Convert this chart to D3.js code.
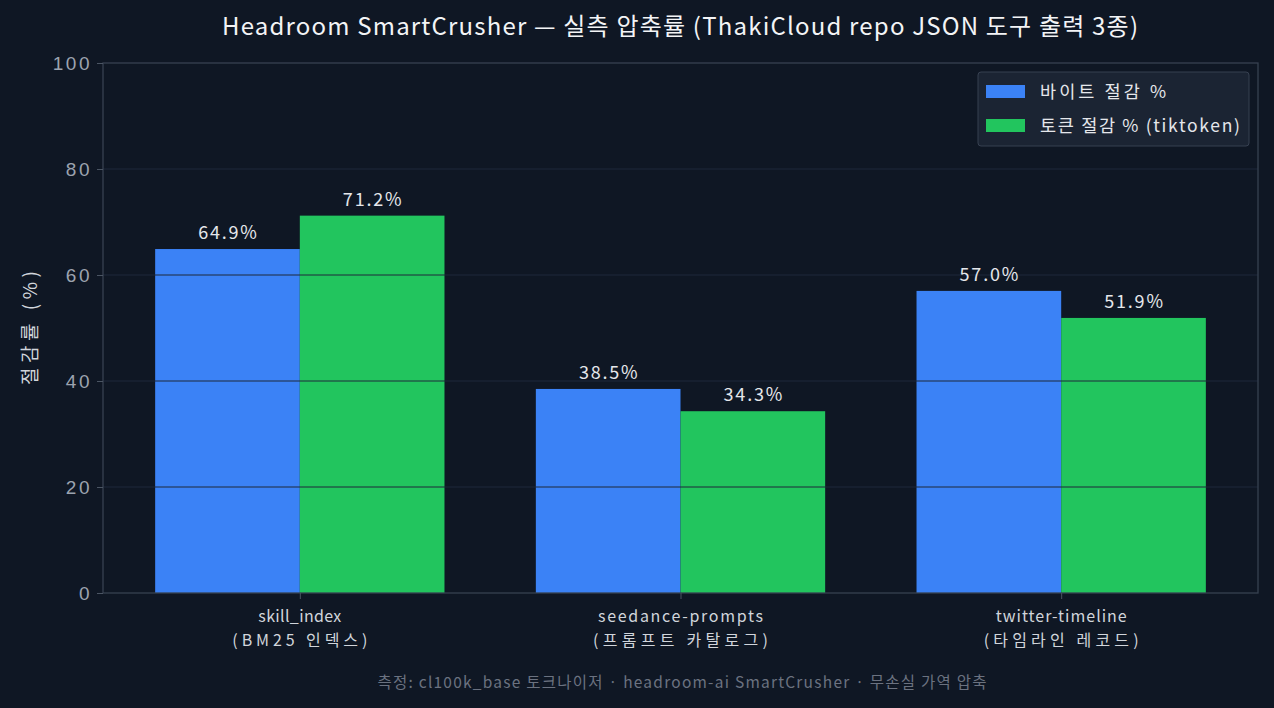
<!DOCTYPE html>
<html>
<head>
<meta charset="utf-8">
<script src="https://cdn.jsdelivr.net/npm/d3@7"></script>
<style>
  html, body { margin: 0; padding: 0; background: #0f1724; }
  svg { display: block; font-family: "Noto Sans CJK KR", "Noto Sans", sans-serif; }
</style>
</head>
<body>
<svg id="chart" width="1274" height="708"></svg>
<script>
// data
const categories = ['skill_index', 'seedance-prompts', 'twitter-timeline'];
const subLabels = ['(BM25 인덱스)', '(프롬프트 카탈로그)', '(타임라인 레코드)'];
const seriesNames = ['바이트 절감 %', '토큰 절감 % (tiktoken)'];
const byteSaving = [64.9, 38.5, 57.0];
const tokenSaving = [71.2, 34.3, 51.9];
const yTicks = [0, 20, 40, 60, 80, 100];

const colors = ['#3b82f6', '#22c55e'];
const width = 1274, height = 708;
const margin = { top: 63, right: 16, bottom: 115, left: 103 };

// widths of the label text as drawn in the original (spacing only)
const catLen = [83, 165, 131];
const subLen = [135, 175, 155];
const legendLen = [126, 200];

const svg = d3.select('#chart');
svg.append('rect').attr('width', width).attr('height', height).attr('fill', '#0f1724');

const x = d3.scaleLinear().domain([-0.517, 2.517]).range([margin.left, width - margin.right]);
const y = d3.scaleLinear().domain([0, 100]).range([height - margin.bottom, margin.top]);
const barW = 0.38;

const series = [byteSaving, tokenSaving];

// bars
series.forEach((vals, s) => {
  svg.append('g').selectAll('rect')
    .data(vals)
    .enter()
    .append('rect')
    .attr('x', (d, i) => x(i + (s === 0 ? -barW : 0)))
    .attr('width', x(barW) - x(0))
    .attr('y', d => y(d))
    .attr('height', d => y(0) - y(d))
    .attr('fill', colors[s]);
});

// grid over bars
svg.append('g').selectAll('line')
  .data(yTicks.filter(t => t > 0 && t < 100))
  .enter()
  .append('line')
  .attr('x1', margin.left).attr('x2', width - margin.right)
  .attr('y1', d => y(d)).attr('y2', d => y(d))
  .attr('stroke', '#1e293b')
  .attr('stroke-width', 1);

// value labels
series.forEach((vals, s) => {
  svg.append('g').selectAll('text')
    .data(vals)
    .enter()
    .append('text')
    .attr('x', (d, i) => x(i + (s === 0 ? -barW / 2 : barW / 2)) + 1)
    .attr('y', d => y(d) - 10)
    .attr('text-anchor', 'middle')
    .style('font-size', '18px')
    .style('letter-spacing', '1.8px')
    .style('fill', '#e5e7eb')
    .text(d => d.toFixed(1) + '%');
});

// frame
svg.append('rect')
  .attr('x', margin.left).attr('y', margin.top)
  .attr('width', width - margin.right - margin.left)
  .attr('height', y(0) - margin.top)
  .attr('fill', 'none')
  .attr('stroke', '#374151')
  .attr('stroke-width', 1.3);

// y axis
const yAxis = svg.append('g')
  .attr('transform', `translate(${margin.left},0)`)
  .call(d3.axisLeft(y).tickValues(yTicks).tickSize(6).tickPadding(5));
yAxis.select('.domain').remove();
yAxis.selectAll('line').attr('stroke', '#4b5563');
yAxis.selectAll('text')
  .style('font-size', '19px')
  .style('letter-spacing', '2.5px')
  .style('fill', '#9ca3af')
  .style('font-family', 'inherit');

// x axis
const xAxis = svg.append('g')
  .attr('transform', `translate(0,${y(0)})`)
  .call(d3.axisBottom(x).tickValues([0, 1, 2]).tickSize(6).tickFormat(''));
xAxis.select('.domain').remove();
xAxis.selectAll('line').attr('stroke', '#4b5563');

const xl = svg.append('g').selectAll('g')
  .data(categories)
  .enter()
  .append('g');
xl.append('text')
  .attr('x', (d, i) => x(i)).attr('y', 622)
  .attr('text-anchor', 'middle')
  .attr('textLength', (d, i) => catLen[i])
  .attr('lengthAdjust', 'spacing')
  .style('font-size', '16px')
  .style('fill', '#d1d5db')
  .text(d => d);
xl.append('text')
  .attr('x', (d, i) => x(i)).attr('y', 646)
  .attr('text-anchor', 'middle')
  .attr('textLength', (d, i) => subLen[i])
  .attr('lengthAdjust', 'spacing')
  .style('font-size', '16px')
  .style('fill', '#d1d5db')
  .text((d, i) => subLabels[i]);

// y label
svg.append('text')
  .attr('transform', `translate(37,${(margin.top + y(0)) / 2}) rotate(-90)`)
  .attr('text-anchor', 'middle')
  .attr('textLength', 114)
  .attr('lengthAdjust', 'spacing')
  .style('font-size', '19px')
  .style('fill', '#d1d5db')
  .text('절감률 (%)');

// title
svg.append('text')
  .attr('x', 680)
  .attr('y', 35)
  .attr('text-anchor', 'middle')
  .attr('textLength', 916)
  .attr('lengthAdjust', 'spacing')
  .style('font-size', '24px')
  .style('fill', '#f3f4f6')
  .text('Headroom SmartCrusher — 실측 압축률 (ThakiCloud repo JSON 도구 출력 3종)');

// footer
svg.append('text')
  .attr('x', 682)
  .attr('y', 688)
  .attr('text-anchor', 'middle')
  .attr('textLength', 609)
  .attr('lengthAdjust', 'spacing')
  .style('font-size', '15.5px')
  .style('fill', '#6b7280')
  .text('측정: cl100k_base 토크나이저 · headroom-ai SmartCrusher · 무손실 가역 압축');

// legend
const lg = svg.append('g').attr('transform', 'translate(978,72)');
lg.append('rect')
  .attr('width', 271).attr('height', 74).attr('rx', 3)
  .attr('fill', '#1b2433').attr('stroke', '#374151');
const items = lg.selectAll('g.item')
  .data(seriesNames)
  .enter()
  .append('g')
  .attr('transform', (d, i) => `translate(8,${13 + i * 34})`);
items.append('rect')
  .attr('width', 39).attr('height', 13)
  .attr('fill', (d, i) => colors[i]);
items.append('text')
  .attr('x', 54).attr('y', 13)
  .attr('textLength', (d, i) => legendLen[i])
  .attr('lengthAdjust', 'spacing')
  .style('font-size', '17.5px')
  .style('fill', '#e5e7eb')
  .text(d => d);
</script>
</body>
</html>
